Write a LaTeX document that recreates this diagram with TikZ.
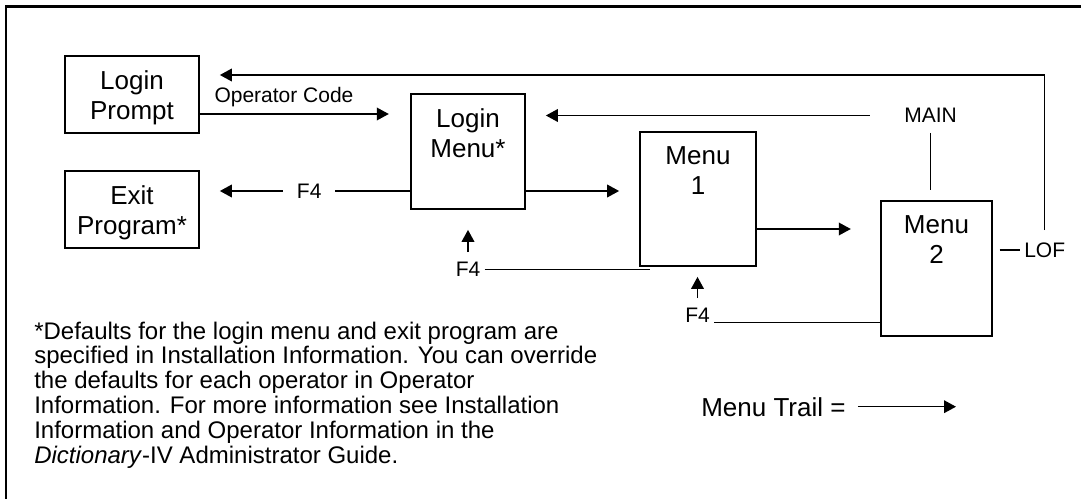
\documentclass[tikz,border=0pt]{standalone}
\usepackage{fontspec}
\setmainfont{Liberation Sans}
\usepackage{tikz}
\usetikzlibrary{calc}
\usetikzlibrary{arrows.meta}

\begin{document}
\begin{tikzpicture}[x=0.75pt,y=-0.75pt,
  menubox/.style={draw, line width=1.3pt, inner sep=0pt},
  boxtext/.style={anchor=north, inner sep=0pt, yshift=-11.6pt, align=center, font=\fontsize{19.5}{22}\selectfont},
  lbl/.style={inner sep=3pt, font=\fontsize{15.75}{18}\selectfont},
  trail/.style={line width=1.1pt, -{Triangle[length=9pt,width=9.5pt]}},
  plain/.style={line width=1.1pt}]

\useasboundingbox (0,0) rectangle (1081,499);
\draw[line width=1.6pt] (6,499) |- (1081,6.5);

\node[menubox, minimum width=100.5pt, minimum height=57.75pt, label={[boxtext]north:{Login\\Prompt}}] (prompt) at (132,94.5) {};
\node[menubox, minimum width=100.5pt, minimum height=57.75pt, label={[boxtext]north:{Exit\\Program*}}] (exitp) at (132,209.5) {};
\node[menubox, minimum width=85.5pt, minimum height=86.25pt, label={[boxtext]north:{Login\\Menu*}}] (lmenu) at (468,151.5) {};
\node[menubox, minimum width=87pt, minimum height=100.5pt, label={[boxtext]north:{Menu\\1}}] (menua) at (698,199) {};
\node[menubox, minimum width=83.25pt, minimum height=101.25pt, label={[boxtext]north:{Menu\\2}}] (menub) at (936.5,268.5) {};

\node[lbl] (main) at (930.5,115.5) {MAIN};
\node[lbl, anchor=base west] (lof) at (1020,257) {LOF};
\node[lbl] (fkeyup) at (468,269.5) {F4};
\node[lbl] (fkeylow) at (697.5,315.5) {F4};

\node[anchor=base west, inner sep=3pt, font=\fontsize{19.5}{22}\selectfont] (legend) at (697,416) {Menu Trail =};
\coordinate (legendtip) at (956,0);

\node[anchor=north west, inner sep=0pt, align=left, font=\fontsize{18}{18.6}\selectfont] (note) at (34,321.5) {*Defaults for the login menu and exit program are\\specified in Installation Information. You can override\\the defaults for each operator in Operator\\Information. For more information see Installation\\Information and Operator Information in the\\\textit{Dictionary}-IV Administrator Guide.};

\draw[trail, shorten >=15pt] ([yshift=6pt]lof.north) |- (prompt.east |- 0,75);
\draw[plain] ([xshift=5pt]menub.east |- lof.west) -- (lof.west);

\draw[trail, shorten >=16pt] (prompt.east |- 0,114) -- node[lbl, above=2pt, pos=0.4] (opcode) {Operator Code} (lmenu.west |- 0,114);

\draw[trail, shorten <=22.5pt, shorten >=15pt] (main.west) -- (lmenu.east |- main.west);
\draw[plain, shorten <=4.5pt, shorten >=7.5pt] (main.south) -- (main.south |- menub.north);

\draw[trail, shorten >=15pt] (lmenu.west |- 0,191) -- node[lbl, fill=white, inner xsep=10.5pt, pos=0.48] (fkeyexit) {F4} (exitp.east |- 0,191);

\draw[trail, shorten >=15pt] (lmenu.east |- 0,191) -- (menua.west |- 0,191);
\draw[trail, shorten >=22pt] (menua.east |- 0,229) -- (menub.west |- 0,229);

\draw[trail, shorten <=4.5pt, shorten >=15pt] (fkeyup.north) -- (fkeyup.north |- lmenu.south);
\draw[plain] (fkeyup.east) -- ([xshift=8pt]menua.south west |- fkeyup.east);

\draw[trail, shorten <=4.5pt, shorten >=7.5pt] (fkeylow.north) -- (fkeylow.north |- menua.south);
\draw[plain] (fkeylow.base east) -- (fkeylow.base east -| menub.west);

\draw[trail, shorten <=6pt] (legend.east) -- (legend.east -| legendtip);

\end{tikzpicture}
\end{document}
